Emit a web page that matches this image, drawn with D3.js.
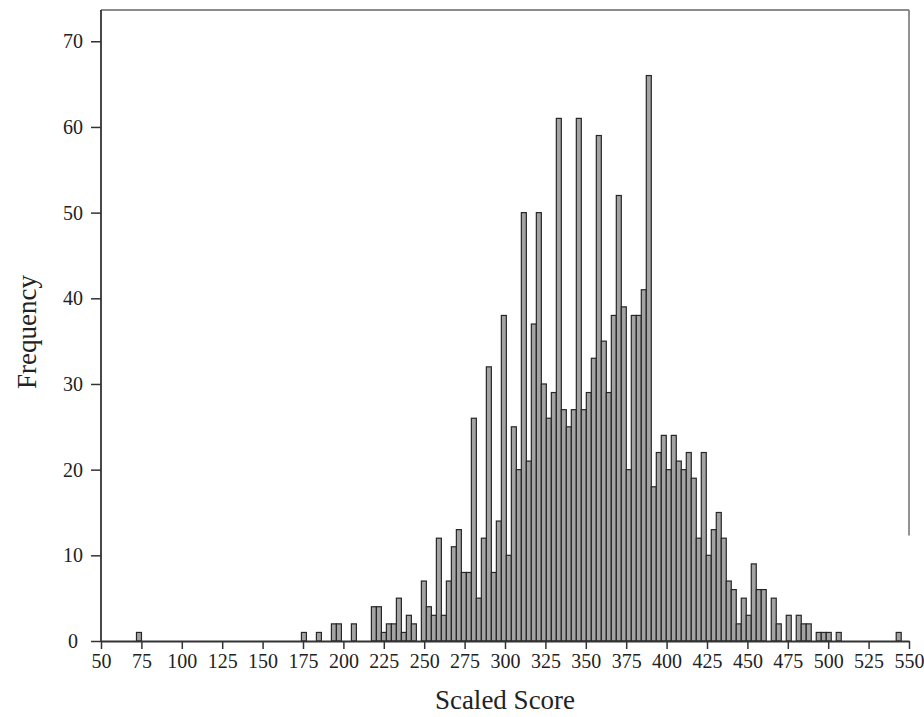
<!DOCTYPE html>
<html>
<head>
<meta charset="utf-8">
<script src="https://cdn.jsdelivr.net/npm/d3@7/dist/d3.min.js"></script>
<style>
  html, body { margin: 0; padding: 0; background: #ffffff; }
  svg { display: block; }
</style>
</head>
<body>
<svg id="chart" width="924" height="717"></svg>
<script>
// ---- Data ----
const binStart = 50.3;      // lower edge of first bin (scaled score)
const binWidth = 3.093;     // width of each bin (scaled score units)
// frequency per bin, bin k covers [binStart + k*binWidth, binStart + (k+1)*binWidth)
const frequency = [
  0,0,0,0,0,0,0,1,0,0,            // 0-9
  0,0,0,0,0,0,0,0,0,0,            // 10-19
  0,0,0,0,0,0,0,0,0,0,            // 20-29
  0,0,0,0,0,0,0,0,0,0,            // 30-39
  1,0,0,1,0,0,2,2,0,0,            // 40-49
  2,0,0,0,4,4,1,2,2,5,            // 50-59
  1,3,2,0,7,4,3,12,3,7,           // 60-69
  11,13,8,8,26,5,12,32,8,14,      // 70-79
  38,10,25,20,50,21,37,50,30,26,  // 80-89
  29,61,27,25,27,61,27,29,33,59,  // 90-99
  35,29,38,52,39,20,38,38,41,66,  // 100-109
  18,22,24,20,24,21,20,22,19,12,  // 110-119
  22,10,13,15,12,7,6,2,5,3,       // 120-129
  9,6,6,0,5,2,0,3,0,3,            // 130-139
  2,2,0,1,1,1,0,1,0,0,            // 140-149
  0,0,0,0,0,0,0,0,0,1,            // 150-159
  0,0                             // 160-161
];
const xTicks = [50,75,100,125,150,175,200,225,250,275,300,325,350,375,400,425,450,475,500,525,550];
const yTicks = [0,10,20,30,40,50,60,70];
const xTitle = "Scaled Score";
const yTitle = "Frequency";

// ---- Layout ----
const W = 924, H = 717;
const margin = { top: 10, right: 15, bottom: 76, left: 101 };
const innerW = W - margin.left - margin.right;
const innerH = H - margin.top - margin.bottom;

const svg = d3.select("#chart");
const g = svg.append("g").attr("transform", `translate(${margin.left},${margin.top})`);

const x = d3.scaleLinear().domain([50, 550]).range([0, innerW]);
const y = d3.scaleLinear().domain([0, 73.65]).range([innerH, 0]);

const bins = frequency.map((f, k) => ({
  x0: binStart + k * binWidth,
  x1: binStart + (k + 1) * binWidth,
  f
})).filter(d => d.f > 0);

// bars
g.append("g").selectAll("rect")
  .data(bins)
  .join("rect")
  .attr("x", d => x(d.x0))
  .attr("y", d => y(d.f))
  .attr("width", d => x(d.x1) - x(d.x0))
  .attr("height", d => y(0) - y(d.f))
  .attr("fill", "#a3a3a3")
  .attr("stroke", "#262626")
  .attr("stroke-width", 1.2);

// frame: top and partial right border
g.append("line")
  .attr("x1", 0).attr("x2", innerW)
  .attr("y1", 0).attr("y2", 0)
  .attr("stroke", "#666").attr("stroke-width", 1.6);
g.append("line")
  .attr("x1", innerW).attr("x2", innerW)
  .attr("y1", 0).attr("y2", y(12.3))
  .attr("stroke", "#777").attr("stroke-width", 1.6);

// axes
const fontFamily = "'Liberation Serif', 'Times New Roman', serif";

const xAxis = g.append("g")
  .attr("transform", `translate(0,${innerH})`)
  .call(d3.axisBottom(x).tickValues(xTicks).tickSize(8).tickSizeOuter(0).tickPadding(5).tickFormat(d3.format("d")));
xAxis.select(".domain").attr("stroke", "#333").attr("stroke-width", 1.8);
xAxis.selectAll(".tick line").attr("stroke", "#333").attr("stroke-width", 1.5);
xAxis.selectAll("text").attr("font-family", fontFamily).attr("font-size", 20).attr("fill", "#222");

const yAxis = g.append("g")
  .call(d3.axisLeft(y).tickValues(yTicks).tickSize(10).tickSizeOuter(0).tickPadding(5).tickFormat(d3.format("d")));
yAxis.select(".domain").attr("stroke", "#333").attr("stroke-width", 1.8)
  .attr("d", `M0,${innerH}V0`);
yAxis.selectAll(".tick line").attr("stroke", "#333").attr("stroke-width", 1.5);
yAxis.selectAll("text")
  .attr("font-family", fontFamily).attr("font-size", 20).attr("fill", "#222")
  .attr("text-anchor", "middle").attr("x", -28);

// titles
svg.append("text")
  .attr("x", margin.left + x(300))
  .attr("y", 709)
  .attr("text-anchor", "middle")
  .attr("font-family", fontFamily)
  .attr("font-size", 27)
  .attr("fill", "#222")
  .text(xTitle);

svg.append("text")
  .attr("transform", `translate(36,${332}) rotate(-90)`)
  .attr("text-anchor", "middle")
  .attr("font-family", fontFamily)
  .attr("font-size", 27)
  .attr("fill", "#222")
  .text(yTitle);
</script>
</body>
</html>
